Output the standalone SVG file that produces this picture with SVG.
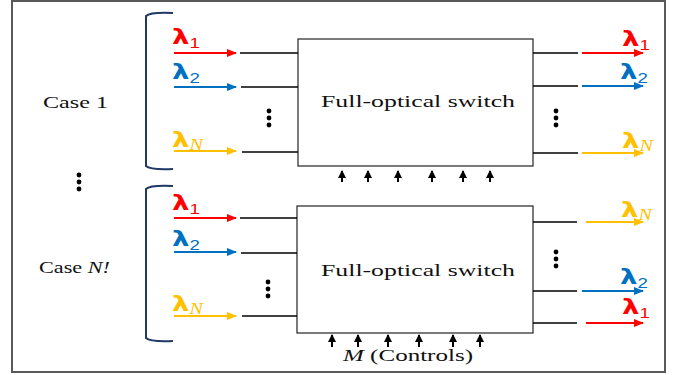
<svg xmlns="http://www.w3.org/2000/svg" width="677" height="375" viewBox="0 0 677 375">
<style>
.frame{fill:#fff;stroke:#595959;stroke-width:2}
.box{fill:#fff;stroke:#333;stroke-width:1.3}
.wire{stroke:#000;stroke-width:1.5;fill:none}
.br{fill:none;stroke:#1F3864;stroke-width:2}
.ar{stroke-width:2;fill:none}
.red{stroke:#FF0000;fill:#FF0000}
.blue{stroke:#0070C0;fill:#0070C0}
.yel{stroke:#FFC000;fill:#FFC000}
.ctl{stroke:#000;stroke-width:2;fill:none}
.ser{font-family:"Liberation Serif","Times New Roman",serif;font-size:17px;fill:#111}
.lam{font-family:"DejaVu Sans","Liberation Sans",sans-serif;font-weight:bold;font-size:22px;stroke:none}
.sub{font-family:"Liberation Sans",sans-serif;font-weight:normal;font-size:15px}
.subn{font-family:"Liberation Serif",serif;font-style:italic;font-weight:normal;font-size:16px}
.dot{fill:#000}
</style>
<defs>
<marker id="hr" markerWidth="10" markerHeight="8" refX="9" refY="4" orient="auto" markerUnits="userSpaceOnUse"><path d="M0,0 L10,4 L0,8 Z" fill="#FF0000"/></marker>
<marker id="hb" markerWidth="10" markerHeight="8" refX="9" refY="4" orient="auto" markerUnits="userSpaceOnUse"><path d="M0,0 L10,4 L0,8 Z" fill="#0070C0"/></marker>
<marker id="hy" markerWidth="10" markerHeight="8" refX="9" refY="4" orient="auto" markerUnits="userSpaceOnUse"><path d="M0,0 L10,4 L0,8 Z" fill="#FFC000"/></marker>
<marker id="hk" markerWidth="9" markerHeight="8" refX="7" refY="4" orient="auto" markerUnits="userSpaceOnUse"><path d="M0,0 L8,4 L0,8 Z" fill="#000"/></marker>
</defs>
<rect class="frame" x="12" y="1" width="653" height="371"/>

<g id="case1-label"><text class="ser" x="43" y="108" textLength="65" lengthAdjust="spacingAndGlyphs">Case 1</text></g>
<g id="caseN-label"><text class="ser" x="39" y="273" textLength="71" lengthAdjust="spacingAndGlyphs">Case <tspan font-style="italic">N!</tspan></text></g>
<g id="left-dots"><circle class="dot" cx="79" cy="175" r="2.4"/><circle class="dot" cx="79" cy="182" r="2.4"/><circle class="dot" cx="79" cy="189" r="2.4"/></g>

<g id="bracket1"><path class="br" d="M173,13 Q150,12 146,16 L146,166 Q150,170 173,169"/></g>
<g id="bracket2"><path class="br" d="M173,186 Q150,185 146,189 L146,338 Q150,342 173,341"/></g>

<g id="switch1">
<rect class="box" x="298" y="39" width="235" height="127"/>
<text class="ser" x="321" y="107" textLength="194" lengthAdjust="spacingAndGlyphs">Full-optical switch</text>
</g>
<g id="switch2">
<rect class="box" x="297" y="206" width="236" height="127"/>
<text class="ser" x="321" y="276" textLength="194" lengthAdjust="spacingAndGlyphs">Full-optical switch</text>
</g>

<g id="connectors">
<line class="ar red" x1="174" y1="53" x2="236" y2="53" marker-end="url(#hr)"/>
<line class="ar blue" x1="174" y1="87" x2="236" y2="87" marker-end="url(#hb)"/>
<line class="ar yel" x1="174" y1="151" x2="236" y2="151" marker-end="url(#hy)"/>
<line class="wire" x1="240" y1="53" x2="298" y2="53"/>
<line class="wire" x1="241" y1="87" x2="298" y2="87"/>
<line class="wire" x1="242" y1="152" x2="298" y2="152"/>
<line class="wire" x1="533" y1="53" x2="578" y2="53"/>
<line class="wire" x1="533" y1="86" x2="578" y2="86"/>
<line class="wire" x1="533" y1="153" x2="578" y2="153"/>
<line class="ar red" x1="582" y1="53" x2="643" y2="53" marker-end="url(#hr)"/>
<line class="ar blue" x1="582" y1="86" x2="643" y2="86" marker-end="url(#hb)"/>
<line class="ar yel" x1="582" y1="153" x2="643" y2="153" marker-end="url(#hy)"/>
<line class="ar red" x1="174" y1="218" x2="236" y2="218" marker-end="url(#hr)"/>
<line class="ar blue" x1="174" y1="252" x2="236" y2="252" marker-end="url(#hb)"/>
<line class="ar yel" x1="174" y1="316" x2="236" y2="316" marker-end="url(#hy)"/>
<line class="wire" x1="240" y1="218" x2="297" y2="218"/>
<line class="wire" x1="241" y1="253" x2="297" y2="253"/>
<line class="wire" x1="242" y1="316" x2="297" y2="316"/>
<line class="wire" x1="533" y1="222" x2="577" y2="222"/>
<line class="wire" x1="533" y1="291" x2="577" y2="291"/>
<line class="wire" x1="533" y1="323" x2="577" y2="323"/>
<line class="ar yel" x1="586" y1="222" x2="643" y2="222" marker-end="url(#hy)"/>
<line class="ar blue" x1="582" y1="291" x2="643" y2="291" marker-end="url(#hb)"/>
<line class="ar red" x1="586" y1="323" x2="643" y2="323" marker-end="url(#hr)"/>
<line class="ctl" x1="342" y1="182" x2="342" y2="171" marker-end="url(#hk)"/>
<line class="ctl" x1="368" y1="182" x2="368" y2="171" marker-end="url(#hk)"/>
<line class="ctl" x1="398" y1="182" x2="398" y2="171" marker-end="url(#hk)"/>
<line class="ctl" x1="432" y1="182" x2="432" y2="171" marker-end="url(#hk)"/>
<line class="ctl" x1="463" y1="182" x2="463" y2="171" marker-end="url(#hk)"/>
<line class="ctl" x1="490" y1="182" x2="490" y2="171" marker-end="url(#hk)"/>
<line class="ctl" x1="332" y1="347" x2="332" y2="335" marker-end="url(#hk)"/>
<line class="ctl" x1="358" y1="347" x2="358" y2="335" marker-end="url(#hk)"/>
<line class="ctl" x1="388" y1="347" x2="388" y2="335" marker-end="url(#hk)"/>
<line class="ctl" x1="419" y1="347" x2="419" y2="335" marker-end="url(#hk)"/>
<line class="ctl" x1="453" y1="347" x2="453" y2="335" marker-end="url(#hk)"/>
<line class="ctl" x1="480" y1="347" x2="480" y2="335" marker-end="url(#hk)"/>
</g>

<g id="dots">
<circle class="dot" cx="269" cy="111" r="2.4"/><circle class="dot" cx="269" cy="118" r="2.4"/><circle class="dot" cx="269" cy="125" r="2.4"/>
<circle class="dot" cx="268" cy="282" r="2.4"/><circle class="dot" cx="268" cy="289" r="2.4"/><circle class="dot" cx="268" cy="296" r="2.4"/>
<circle class="dot" cx="556" cy="111" r="2.4"/><circle class="dot" cx="556" cy="118" r="2.4"/><circle class="dot" cx="556" cy="125" r="2.4"/>
<circle class="dot" cx="556" cy="252" r="2.4"/><circle class="dot" cx="556" cy="259" r="2.4"/><circle class="dot" cx="556" cy="266" r="2.4"/>
</g>

<g id="labels">
<text class="lam" fill="#FF0000" transform="translate(172,44) scale(1.25,1)">λ<tspan class="sub" dy="4">1</tspan></text>
<text class="lam" fill="#0070C0" transform="translate(172,79) scale(1.25,1)">λ<tspan class="sub" dy="4">2</tspan></text>
<text class="lam" fill="#FFC000" transform="translate(172,147) scale(1.25,1)">λ<tspan class="subn" dy="3">N</tspan></text>
<text class="lam" fill="#FF0000" transform="translate(172,210) scale(1.25,1)">λ<tspan class="sub" dy="4">1</tspan></text>
<text class="lam" fill="#0070C0" transform="translate(172,246) scale(1.25,1)">λ<tspan class="sub" dy="4">2</tspan></text>
<text class="lam" fill="#FFC000" transform="translate(172,311) scale(1.25,1)">λ<tspan class="subn" dy="3">N</tspan></text>
<text class="lam" fill="#FF0000" transform="translate(622,46) scale(1.25,1)">λ<tspan class="sub" dy="4">1</tspan></text>
<text class="lam" fill="#0070C0" transform="translate(620,79) scale(1.25,1)">λ<tspan class="sub" dy="4">2</tspan></text>
<text class="lam" fill="#FFC000" transform="translate(622,148) scale(1.25,1)">λ<tspan class="subn" dy="3">N</tspan></text>
<text class="lam" fill="#FFC000" transform="translate(621,217) scale(1.25,1)">λ<tspan class="subn" dy="3">N</tspan></text>
<text class="lam" fill="#0070C0" transform="translate(620,284) scale(1.25,1)">λ<tspan class="sub" dy="4">2</tspan></text>
<text class="lam" fill="#FF0000" transform="translate(622,314) scale(1.25,1)">λ<tspan class="sub" dy="4">1</tspan></text>
</g>

<g id="controls-label"><text class="ser" x="343" y="361" textLength="130" lengthAdjust="spacingAndGlyphs"><tspan font-style="italic">M</tspan> (Controls)</text></g>
</svg>
